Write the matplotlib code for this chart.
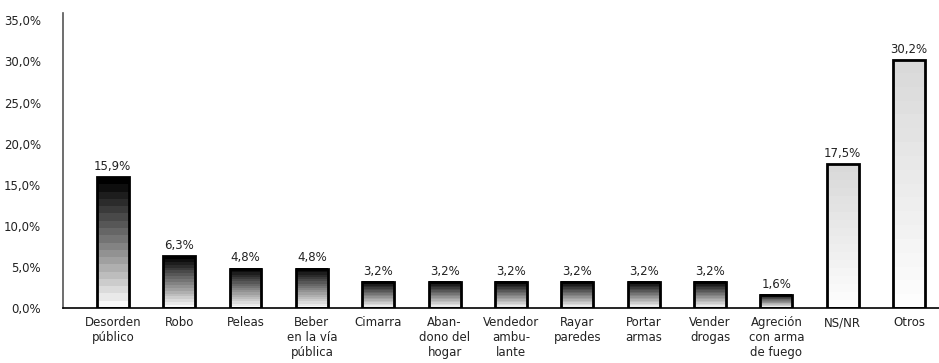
import matplotlib.pyplot as plt
import numpy as np

categories = ["Desorden\npúblico", "Robo", "Peleas", "Beber\nen la vía\npública",
              "Cimarra", "Aban-\ndono del\nhogar", "Vendedor\nambu-\nlante",
              "Rayar\nparedes", "Portar\narmas", "Vender\ndrogas",
              "Agreción\ncon arma\nde fuego", "NS/NR", "Otros"]
values = [15.9, 6.3, 4.8, 4.8, 3.2, 3.2, 3.2, 3.2, 3.2, 3.2, 1.6, 17.5, 30.2]
light_bars = ["NS/NR", "Otros"]

plt.rcParams["font.family"] = ["DejaVu Sans"]

fig = plt.figure(figsize=(9.39, 3.63), dpi=100)
ax = fig.add_axes([63 / 939, 1 - 308 / 363, 1 - 63 / 939, (308 - 13) / 363])

x = np.arange(len(values))
width = 0.48

# stepped gradient, white bottom -> dark top (rows go bottom to top)
steps = 18
dark = np.linspace(0.97, 0.0, steps).reshape(-1, 1)
light = np.linspace(0.99, 0.85, steps).reshape(-1, 1)

for xi, v, name in zip(x, values, categories):
    grad = light if name in light_bars else dark
    ax.imshow(grad, cmap="gray", vmin=0, vmax=1, aspect="auto",
              extent=(xi - width / 2, xi + width / 2, 0, v), origin="lower",
              interpolation="nearest", zorder=2)
    ax.text(xi, v + 0.5, ("%.1f%%" % v).replace(".", ","), ha="center",
            va="bottom", fontsize=8.5, color="#222222")

ax.bar(x, values, width=width, facecolor="none", edgecolor="black",
       linewidth=2, zorder=3)

ax.set_xlim(-0.75, 12.45)
ax.set_ylim(0, 35.9)
ax.set_yticks(np.arange(0, 36, 5))
ax.set_yticklabels([("%.1f%%" % t).replace(".", ",") for t in np.arange(0, 36, 5)],
                   fontsize=8.5, color="#222222")
ax.set_xticks(x)
ax.set_xticklabels(categories, fontsize=8.5, color="#222222", linespacing=1.2)
ax.tick_params(axis="both", length=0)
ax.tick_params(axis="y", pad=16)
ax.tick_params(axis="x", pad=6)

ax.spines["top"].set_visible(False)
ax.spines["right"].set_visible(False)
ax.spines["left"].set_color("#555555")
ax.spines["left"].set_linewidth(1.2)
ax.spines["bottom"].set_color("black")
ax.spines["bottom"].set_linewidth(1.2)

plt.savefig("out.png", dpi=100)
